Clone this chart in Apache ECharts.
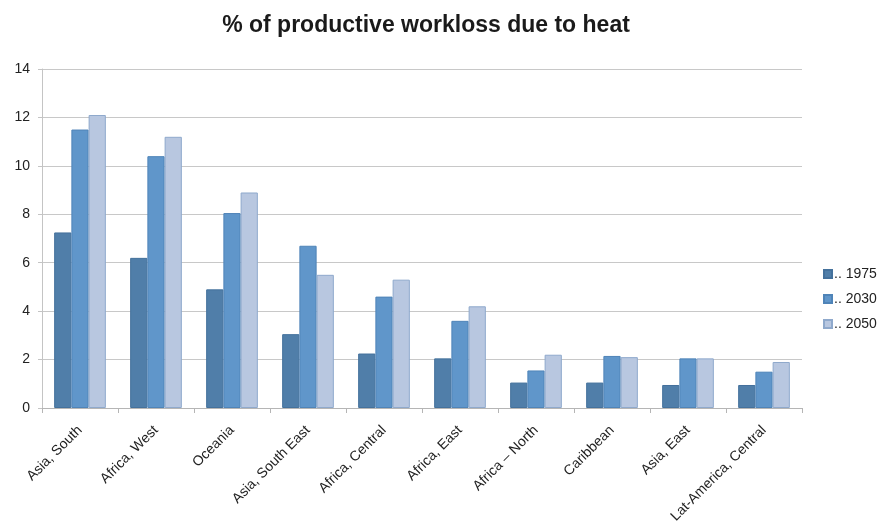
<!DOCTYPE html>
<html>
<head>
<meta charset="utf-8">
<script src="https://cdn.jsdelivr.net/npm/echarts@6/dist/echarts.min.js"></script>
<style>
  html, body { margin: 0; padding: 0; background: #fff; }
  #chart { width: 880px; height: 532px; }
</style>
</head>
<body>
<div id="chart"></div>
<script>
// data
const regions = ['Asia, South', 'Africa, West', 'Oceania', 'Asia, South East', 'Africa, Central',
  'Africa, East', 'Africa \u2013 North', 'Caribbean', 'Asia, East', 'Lat-America, Central']
const v1975 = [7.25, 6.2, 4.9, 3.05, 2.25, 2.05, 1.05, 1.05, 0.95, 0.95]
const v2030 = [11.5, 10.4, 8.05, 6.7, 4.6, 3.6, 1.55, 2.15, 2.05, 1.5]
const v2050 = [12.1, 11.2, 8.9, 5.5, 5.3, 4.2, 2.2, 2.1, 2.05, 1.9]
const seriesNames = ['.. 1975', '.. 2030', '.. 2050']

const fills = ['#507ea9', '#6096ca', '#b8c7e0']
const borders = ['#44719c', '#4f84b8', '#8fa9cc']

const chart = echarts.init(document.getElementById('chart'), null, { renderer: 'canvas' })

const makeBar = (name, data, i) => ({
  name,
  type: 'bar',
  data,
  barGap: '0%',
  barCategoryGap: '32%',
  itemStyle: { color: fills[i], borderColor: borders[i], borderWidth: 1 }
})

chart.setOption({
  animation: false,
  textStyle: { fontFamily: 'Liberation Sans, Arial, sans-serif' },
  title: {
    text: '% of productive workloss due to heat',
    left: 421,
    textAlign: 'center',
    top: 9,
    textStyle: { fontSize: 23, fontWeight: 'bold', color: '#1a1a1a' }
  },
  legend: {
    orient: 'vertical',
    left: 818,
    top: 262,
    itemWidth: 8,
    itemHeight: 8,
    itemGap: 11,
    icon: 'rect',
    textStyle: { fontSize: 14, color: '#222', padding: [0, 0, 0, -3] },
    data: seriesNames
  },
  grid: { left: 42, right: 78, top: 69, bottom: 124 },
  xAxis: {
    type: 'category',
    data: regions,
    axisLine: { lineStyle: { color: '#b5b5b5' } },
    axisTick: { show: true, length: 5, lineStyle: { color: '#b5b5b5' } },
    axisLabel: { rotate: 45, fontSize: 14, color: '#222', margin: 20, interval: 0 }
  },
  yAxis: {
    type: 'value',
    min: 0,
    max: 14,
    interval: 2,
    axisLine: { show: true, lineStyle: { color: '#c4c4c4' } },
    axisTick: { show: true, length: 4, lineStyle: { color: '#c4c4c4' } },
    axisLabel: { fontSize: 14, color: '#222', margin: 12 },
    splitLine: { lineStyle: { color: '#c8c8c8', width: 1 } }
  },
  series: [
    makeBar(seriesNames[0], v1975, 0),
    makeBar(seriesNames[1], v2030, 1),
    makeBar(seriesNames[2], v2050, 2)
  ]
})
</script>
</body>
</html>
